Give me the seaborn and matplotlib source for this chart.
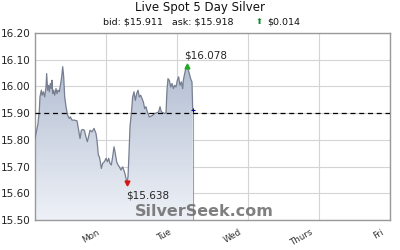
import numpy as np
import pandas as pd
import matplotlib
matplotlib.use("Agg")
import matplotlib.pyplot as plt
import matplotlib.transforms as mtransforms
import seaborn as sns
from matplotlib.colors import LinearSegmentedColormap

# ---- data ----
days = ["Mon", "Tue", "Wed", "Thurs", "Fri"]
day_ticks = [1, 2, 3, 4, 5]
y_ticks = [15.50, 15.60, 15.70, 15.80, 15.90, 16.00, 16.10, 16.20]
t = [0.000, 0.023, 0.042, 0.061, 0.070, 0.089, 0.099, 0.117, 0.136, 0.155,
     0.164, 0.178, 0.192, 0.202, 0.216, 0.230, 0.239, 0.249, 0.263, 0.277,
     0.296, 0.310, 0.324, 0.343, 0.362, 0.376, 0.390, 0.404, 0.418, 0.437,
     0.460, 0.484, 0.498, 0.521, 0.554, 0.592, 0.615, 0.634, 0.653, 0.671,
     0.695, 0.718, 0.737, 0.756, 0.775, 0.803, 0.831, 0.859, 0.873, 0.892,
     0.906, 0.920, 0.934, 0.953, 0.977, 1.000, 1.019, 1.038, 1.056, 1.075,
     1.094, 1.113, 1.131, 1.150, 1.169, 1.188, 1.211, 1.235, 1.258, 1.272,
     1.296, 1.310, 1.324, 1.338, 1.357, 1.376, 1.394, 1.413, 1.432, 1.451,
     1.469, 1.488, 1.507, 1.526, 1.545, 1.563, 1.582, 1.610, 1.638, 1.657,
     1.685, 1.714, 1.742, 1.761, 1.779, 1.808, 1.826, 1.845, 1.859, 1.873,
     1.892, 1.911, 1.930, 1.948, 1.967, 1.986, 2.005, 2.023, 2.042, 2.061,
     2.080, 2.089, 2.108, 2.127, 2.141, 2.160, 2.174, 2.192, 2.211, 2.221]
price = [15.805, 15.836, 15.861, 15.911, 15.961, 15.986, 15.967, 15.980, 15.961, 15.998,
         16.048, 15.986, 16.004, 15.980, 16.011, 15.992, 16.023, 15.973, 15.986, 15.967,
         15.992, 15.973, 15.986, 15.980, 16.011, 16.036, 16.074, 16.036, 15.961, 15.924,
         15.892, 15.880, 15.886, 15.874, 15.874, 15.871, 15.836, 15.805, 15.836, 15.839,
         15.836, 15.811, 15.793, 15.814, 15.836, 15.830, 15.843, 15.824, 15.799, 15.743,
         15.737, 15.718, 15.693, 15.712, 15.718, 15.731, 15.718, 15.731, 15.712, 15.706,
         15.737, 15.774, 15.749, 15.718, 15.706, 15.699, 15.687, 15.699, 15.681, 15.668,
         15.638, 15.662, 15.749, 15.849, 15.899, 15.961, 15.980, 15.948, 15.973, 15.986,
         15.961, 15.967, 15.955, 15.942, 15.917, 15.924, 15.905, 15.886, 15.889, 15.892,
         15.899, 15.901, 15.905, 15.924, 15.905, 15.901, 15.899, 15.901, 15.986, 16.029,
         16.023, 15.998, 16.011, 15.992, 16.004, 15.998, 16.023, 16.036, 16.004, 16.017,
         15.992, 16.023, 16.048, 16.073, 16.078, 16.061, 16.048, 16.029, 16.017, 15.911]
prev_close = 15.90
bid, ask, change = 15.911, 15.918, 0.014

df = pd.DataFrame({"t": t, "price": price})

sns.set_style("white")
plt.rcParams['font.family'] = ['DejaVu Sans']

fig = plt.figure(figsize=(4, 2.5), dpi=100)
ax = fig.add_axes([0.0875, 0.12, 0.8875, 0.748])
ax.set_xlim(0, 5)
ax.set_ylim(15.50, 16.20)

# gradient fill under curve
cmap = LinearSegmentedColormap.from_list("g", ["#eef1f7", "#a7b4cb"])
grad = np.linspace(0, 1, 256).reshape(-1, 1)
poly = ax.fill_between(df["t"], df["price"], 15.50, color="none", lw=0)
img = ax.imshow(grad, cmap=cmap, aspect="auto", origin="lower",
                extent=[0, df["t"].max(), 15.50, 16.20], zorder=1)
path = poly.get_paths()[0]
img.set_clip_path(path, transform=ax.transData)
ax.vlines(df["t"].iloc[-1], 15.50, df["price"].iloc[-1], color="#9aa0ac", lw=0.8, zorder=2)

sns.lineplot(data=df, x="t", y="price", ax=ax, color="#767e8f", lw=0.9, zorder=3)

ax.axhline(prev_close, color="black", ls=(0, (4, 3)), lw=0.9, zorder=4)

# grid
ax.set_xticks(day_ticks)
ax.set_yticks(y_ticks)
ax.grid(True, color="#d4d4d4", lw=0.8, zorder=0)
ax.set_axisbelow(True)
ax.set_xticklabels(days, rotation=30, ha="right", rotation_mode="anchor",
                   fontsize=6.3, color="#333333")
ax.set_yticklabels([f"{v:.2f}" for v in y_ticks], fontsize=7.5, color="#222222")
ax.tick_params(axis="x", length=0, pad=5.5)
ax.tick_params(axis="y", length=0, pad=3)
offset = mtransforms.ScaledTranslation(-9 / 100, 0, fig.dpi_scale_trans)
for lab in ax.get_xticklabels():
    lab.set_transform(lab.get_transform() + offset)
for s in ax.spines.values():
    s.set_color("#999999")
    s.set_linewidth(1.0)
ax.set_xlabel("")
ax.set_ylabel("")

# max / min markers
imax = int(np.argmax(price))
imin = int(np.argmin(price))
ax.plot(t[imax], price[imax], marker="^", color="#22aa22", ms=3.5, zorder=5)
ax.plot(t[imin], price[imin], marker="v", color="#dd1111", ms=3.5, zorder=5)
ax.annotate(f"\\${price[imax]:.3f}", (t[imax], price[imax]), xytext=(-2, 4),
            textcoords="offset points", fontsize=7.5, ha="left", va="bottom")
ax.annotate(f"\\${price[imin]:.3f}", (t[imin], price[imin]), xytext=(-1, -5),
            textcoords="offset points", fontsize=7.5, ha="left", va="top")
ax.plot(t[-1], price[-1], marker="+", color="#000088", ms=3, mew=0.8, zorder=5)

# watermark
fig.text(0.512, 0.152, "SilverSeek.com", fontsize=11.5, fontweight="bold",
         color="#6a6a6a", alpha=0.85, ha="center", va="center")

# titles
fig.text(0.5, 0.968, "Live Spot 5 Day Silver", fontsize=8.5, ha="center", va="center",
         color="#111111")
fig.text(0.258, 0.912, f"bid: \\${bid:.3f}   ask: \\${ask:.3f}", fontsize=6.8,
         ha="left", va="center", color="#111111")
fig.text(0.648, 0.914, "⬆", fontsize=6, ha="center", va="center", color="#118833")
fig.text(0.668, 0.912, f"\\${change:.3f}", fontsize=6.8, ha="left", va="center",
         color="#111111")

fig.savefig("out.png", dpi=100)
